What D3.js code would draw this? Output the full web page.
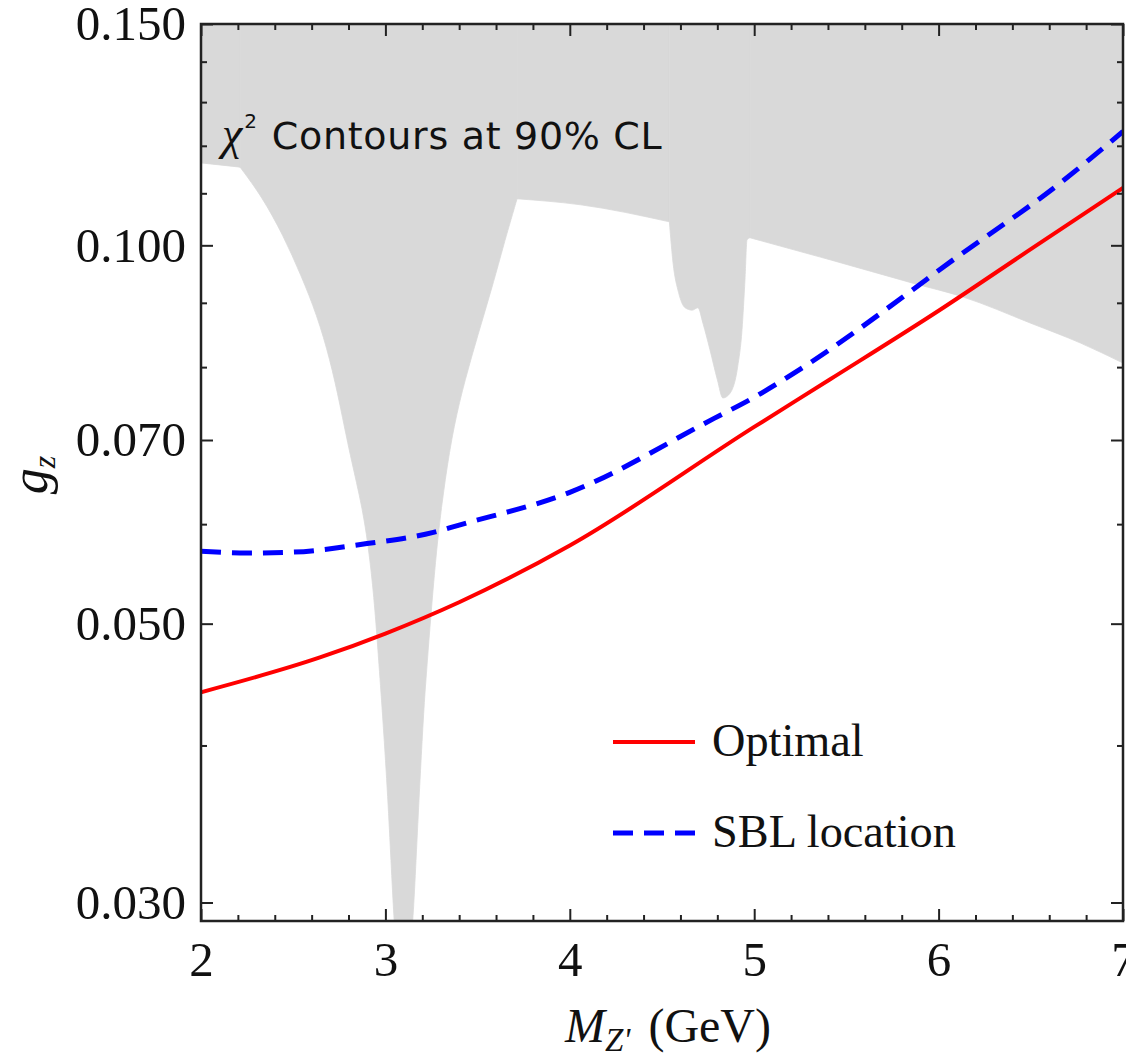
<!DOCTYPE html>
<html>
<head>
<meta charset="utf-8">
<script src="https://cdn.jsdelivr.net/npm/d3@7"></script>
<style>
  html, body { margin: 0; padding: 0; background: #fff; }
  svg { display: block; }
</style>
</head>
<body>
<svg id="chart" width="1126" height="1059"></svg>
<script>
// Z' mass (GeV) and coupling g_z along the "Optimal" curve
const optimalMass = [2.0, 2.645, 3.0, 3.4, 4.0, 5.0, 5.41, 6.0, 6.5, 7.0];
const optimalCoupling = [0.0441, 0.0470, 0.0491, 0.0520, 0.0577, 0.0717, 0.0782, 0.0887, 0.0993, 0.1111];

// Z' mass (GeV) and coupling g_z along the "SBL location" curve
const sblMass = [2.0, 2.25, 2.5, 2.9, 3.26, 3.4, 4.0, 4.78, 5.0, 5.25, 5.86, 6.0, 6.68, 7.0];
const sblCoupling = [0.0571, 0.0569, 0.0570, 0.0579, 0.0591, 0.0599, 0.0636, 0.0728, 0.0757, 0.0797, 0.0922, 0.0955, 0.1127, 0.1232];

// Lower edge of the excluded (chi^2 90% CL) region; the region extends up to the top of the frame
const boundMass = [2.000, 2.212, 2.331, 2.445, 2.542, 2.629, 2.700, 2.754, 2.808, 2.879, 2.917, 2.944, 2.965, 2.987, 3.014, 3.030, 3.047, 3.058,
                   3.133, 3.150, 3.166, 3.182, 3.199, 3.215, 3.236, 3.258, 3.285, 3.323, 3.372, 3.432, 3.502, 3.578, 3.649, 3.681, 3.714,
                   4.06, 4.54, 4.56, 4.59, 4.625, 4.663, 4.695, 4.722, 4.76, 4.80, 4.83, 4.87, 4.91, 4.934, 4.95, 4.961, 4.977,
                   5.41, 5.86, 6.13, 6.50, 6.77, 7.00];
const boundCoupling = [0.1163, 0.1154, 0.1093, 0.1019, 0.0947, 0.0880, 0.0811, 0.0747, 0.0681, 0.0616, 0.0562, 0.0513, 0.0464, 0.0419, 0.0362, 0.0324, 0.0290, 0.0275,
                       0.0275, 0.0290, 0.0324, 0.0362, 0.0404, 0.0443, 0.0485, 0.0532, 0.0588, 0.0651, 0.0720, 0.0782, 0.0849, 0.0925, 0.1010, 0.1048, 0.1089,
                       0.1077, 0.1044, 0.0968, 0.0917, 0.0892, 0.0888, 0.0892, 0.0867, 0.0826, 0.0782, 0.0756, 0.0763, 0.0800, 0.0857, 0.0939, 0.1010, 0.1014,
                       0.0974, 0.0933, 0.0910, 0.0867, 0.0836, 0.0806];
// Masses where the edge of the region has a sharp corner
const boundCorners = [2.212, 3.714, 4.54, 4.977];

// Axis ticks
const massTicks = [2, 3, 4, 5, 6, 7];
const massMinorTicks = d3.range(2, 7.0001, 0.2).filter(v => Math.abs(v - Math.round(v)) > 1e-6);
const couplingTicks = [0.030, 0.050, 0.070, 0.100, 0.150];
const couplingMinorTicks = [0.04, 0.06, 0.08, 0.09, 0.11, 0.12, 0.13, 0.14];

// Legend entries
const legendLabels = ["Optimal", "SBL location"];
const titleText = " Contours at 90% CL";

const svg = d3.select("#chart");
const plotLeft = 201, plotRight = 1123, plotTop = 24, plotBottom = 921;

const x = d3.scaleLinear().domain([2, 7]).range([plotLeft, plotRight]);
const y = d3.scaleLog().domain([0.029, 0.150]).range([plotBottom, plotTop]);

svg.append("defs").append("clipPath").attr("id", "plot-clip")
  .append("rect").attr("x", plotLeft).attr("y", plotTop)
  .attr("width", plotRight - plotLeft).attr("height", plotBottom - plotTop);

const plot = svg.append("g").attr("clip-path", "url(#plot-clip)");

// Excluded region, drawn piecewise between the corners so that they stay sharp;
// the broad resonance dip is smoothed with a B-spline.
const boundary = boundMass.map((m, i) => [m, boundCoupling[i]]);
const breaks = [boundMass[0], ...boundCorners, boundMass[boundMass.length - 1]];
const region = plot.append("g").attr("fill", "#d9d9d9").attr("stroke", "#d9d9d9").attr("stroke-width", 0.8);
for (let k = 0; k < breaks.length - 1; k++) {
  const seg = boundary.filter(d => d[0] >= breaks[k] - 1e-9 && d[0] <= breaks[k + 1] + 1e-9);
  const curve = (k === 1) ? d3.curveBasis : d3.curveMonotoneX;
  region.append("path")
    .datum(seg)
    .attr("d", d3.area()
      .x(d => x(d[0]))
      .y0(y(0.150) - 5)
      .y1(d => y(d[1]))
      .curve(curve));
}

const line = d3.line().x(d => x(d[0])).y(d => y(d[1])).curve(d3.curveMonotoneX);

const sbl = sblMass.map((m, i) => [m, sblCoupling[i]]);
const optimal = optimalMass.map((m, i) => [m, optimalCoupling[i]]);

plot.append("path").datum(sbl)
  .attr("fill", "none").attr("stroke", "#0000ff").attr("stroke-width", 5)
  .attr("stroke-dasharray", "20,11").attr("d", line);

plot.append("path").datum(optimal)
  .attr("fill", "none").attr("stroke", "#ff0000").attr("stroke-width", 4).attr("d", line);

// Axes: ticks point inward on all four sides
const fontSerif = "'Liberation Serif', 'Times New Roman', serif";

function styleAxis(g) {
  g.select(".domain").remove();
  g.selectAll(".tick line").attr("stroke", "#222").attr("stroke-width", 2);
  g.selectAll("text").attr("font-family", fontSerif).attr("font-size", 49).attr("fill", "#111");
}

svg.append("g").attr("transform", `translate(0,${plotBottom})`)
  .call(d3.axisBottom(x).tickValues(massTicks).tickSize(-12).tickPadding(20).tickFormat(d3.format("d")))
  .call(styleAxis);
svg.append("g").attr("transform", `translate(0,${plotBottom})`)
  .call(d3.axisBottom(x).tickValues(massMinorTicks).tickSize(-6).tickFormat(""))
  .call(styleAxis);
svg.append("g").attr("transform", `translate(0,${plotTop})`)
  .call(d3.axisTop(x).tickValues(massTicks).tickSize(-12).tickFormat(""))
  .call(styleAxis);
svg.append("g").attr("transform", `translate(0,${plotTop})`)
  .call(d3.axisTop(x).tickValues(massMinorTicks).tickSize(-6).tickFormat(""))
  .call(styleAxis);

svg.append("g").attr("transform", `translate(${plotLeft},0)`)
  .call(d3.axisLeft(y).tickValues(couplingTicks).tickSize(-12).tickPadding(15).tickFormat(d3.format(".3f")))
  .call(styleAxis);
svg.append("g").attr("transform", `translate(${plotLeft},0)`)
  .call(d3.axisLeft(y).tickValues(couplingMinorTicks).tickSize(-6).tickFormat(""))
  .call(styleAxis);
svg.append("g").attr("transform", `translate(${plotRight},0)`)
  .call(d3.axisRight(y).tickValues(couplingTicks).tickSize(-12).tickFormat(""))
  .call(styleAxis);
svg.append("g").attr("transform", `translate(${plotRight},0)`)
  .call(d3.axisRight(y).tickValues(couplingMinorTicks).tickSize(-6).tickFormat(""))
  .call(styleAxis);

// Frame
svg.append("rect")
  .attr("x", plotLeft).attr("y", plotTop)
  .attr("width", plotRight - plotLeft).attr("height", plotBottom - plotTop)
  .attr("fill", "none").attr("stroke", "#222").attr("stroke-width", 2.5);

// Axis titles
const xt = svg.append("text")
  .attr("x", 668).attr("y", 1042).attr("text-anchor", "middle")
  .attr("font-family", fontSerif).attr("font-size", 48).attr("fill", "#111");
xt.append("tspan").attr("font-style", "italic").text("M");
xt.append("tspan").attr("font-style", "italic").attr("font-size", 33).attr("dy", 9).text("Z'");
xt.append("tspan").attr("dy", -9).attr("dx", 6).text(" (GeV)");

const yt = svg.append("text")
  .attr("transform", "translate(47,475) rotate(-90)").attr("text-anchor", "middle")
  .attr("font-family", fontSerif).attr("font-size", 52).attr("fill", "#111");
yt.append("tspan").attr("font-style", "italic").text("g");
yt.append("tspan").attr("font-style", "italic").attr("font-size", 32).attr("dy", 8).text("z");

// Region label
const rt = svg.append("text")
  .attr("x", 222).attr("y", 149)
  .attr("font-family", "'DejaVu Sans', sans-serif").attr("font-size", 38).attr("fill", "#111");
rt.append("tspan").attr("font-family", fontSerif).attr("font-style", "italic").attr("font-size", 46).text("χ");
rt.append("tspan").attr("font-size", 20).attr("dy", -21).attr("dx", 2).text("2");
rt.append("tspan").attr("dy", 21).attr("dx", 2).attr("letter-spacing", 0.7).text(titleText);

// Legend
const legend = svg.append("g");
const legendY = [742, 833];
const legendStyles = [
  { color: "#ff0000", width: 4, dash: null },
  { color: "#0000ff", width: 5, dash: "20,11" }
];
legendLabels.forEach((label, i) => {
  legend.append("line")
    .attr("x1", 613).attr("x2", 695).attr("y1", legendY[i]).attr("y2", legendY[i])
    .attr("stroke", legendStyles[i].color).attr("stroke-width", legendStyles[i].width)
    .attr("stroke-dasharray", legendStyles[i].dash);
  legend.append("text")
    .attr("x", 712).attr("y", legendY[i] + 14)
    .attr("font-family", fontSerif).attr("font-size", 46.3).attr("fill", "#111")
    .text(label);
});
</script>
</body>
</html>
